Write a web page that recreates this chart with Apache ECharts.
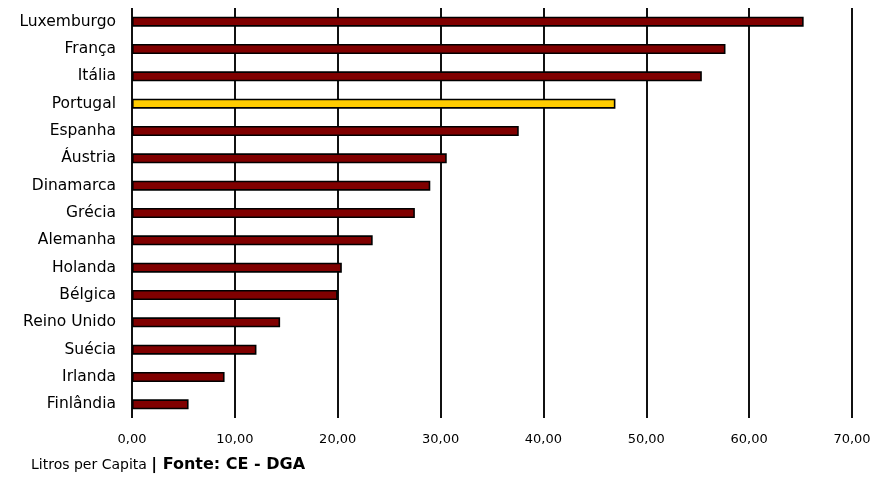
<!DOCTYPE html>
<html>
<head>
<meta charset="utf-8">
<script src="https://cdn.jsdelivr.net/npm/echarts@6/dist/echarts.min.js"></script>
<style>
  html, body { margin: 0; padding: 0; background: #fff; }
  #chart { width: 877px; height: 477px; }
</style>
</head>
<body>
<div id="chart"></div>
<script>
// Consumo de vinho por país (litros per capita)
const countries = ['Luxemburgo', 'França', 'Itália', 'Portugal', 'Espanha', 'Áustria', 'Dinamarca',
  'Grécia', 'Alemanha', 'Holanda', 'Bélgica', 'Reino Unido', 'Suécia', 'Irlanda', 'Finlândia'];
const litresPerCapita = [65.3, 57.7, 55.4, 47.0, 37.6, 30.6, 29.0, 27.5, 23.4, 20.4, 20.0, 14.4, 12.1, 9.0, 5.5];
const highlighted = 'Portugal';
const xTicks = { min: 0, max: 70, step: 10 };
const footerUnit = 'Litros per Capita ';
const footerSource = '| Fonte: CE - DGA';

const FONT = '"DejaVu Sans", Verdana, sans-serif';

const chart = echarts.init(document.getElementById('chart'), null, { renderer: 'canvas' });

const barData = countries.map((name, i) => ({
  value: litresPerCapita[i],
  itemStyle: { color: name === highlighted ? '#FFCC00' : '#800000' }
}));

chart.setOption({
  backgroundColor: '#ffffff',
  animation: false,
  grid: { left: 132, right: 25, top: 8, bottom: 59, containLabel: false },
  graphic: [{
    type: 'text',
    left: 31,
    top: 457,
    style: {
      text: '{a|' + footerUnit + '}{b|' + footerSource + '}',
      rich: {
        a: { fontFamily: FONT, fontSize: 14, fontWeight: 'normal', fill: '#000', color: '#000' },
        b: { fontFamily: FONT, fontSize: 16, fontWeight: 'bold', fill: '#000', color: '#000' }
      }
    }
  }],
  xAxis: {
    type: 'value',
    min: xTicks.min,
    max: xTicks.max,
    interval: xTicks.step,
    axisLine: { show: false },
    axisTick: { show: false },
    splitLine: { show: true, lineStyle: { color: '#111', width: 2 } },
    axisLabel: {
      margin: 15,
      fontFamily: FONT,
      fontSize: 13,
      color: '#000',
      formatter: v => v.toFixed(2).replace('.', ',')
    }
  },
  yAxis: {
    type: 'category',
    data: countries,
    inverse: true,
    axisLine: { show: false },
    axisTick: { show: false },
    splitLine: { show: false },
    axisLabel: {
      margin: 16,
      fontFamily: FONT,
      fontSize: 15.5,
      color: '#000'
    }
  },
  series: [{
    type: 'bar',
    data: barData,
    barWidth: 10,
    itemStyle: { borderColor: '#000', borderWidth: 1.6 }
  }]
});
</script>
</body>
</html>
